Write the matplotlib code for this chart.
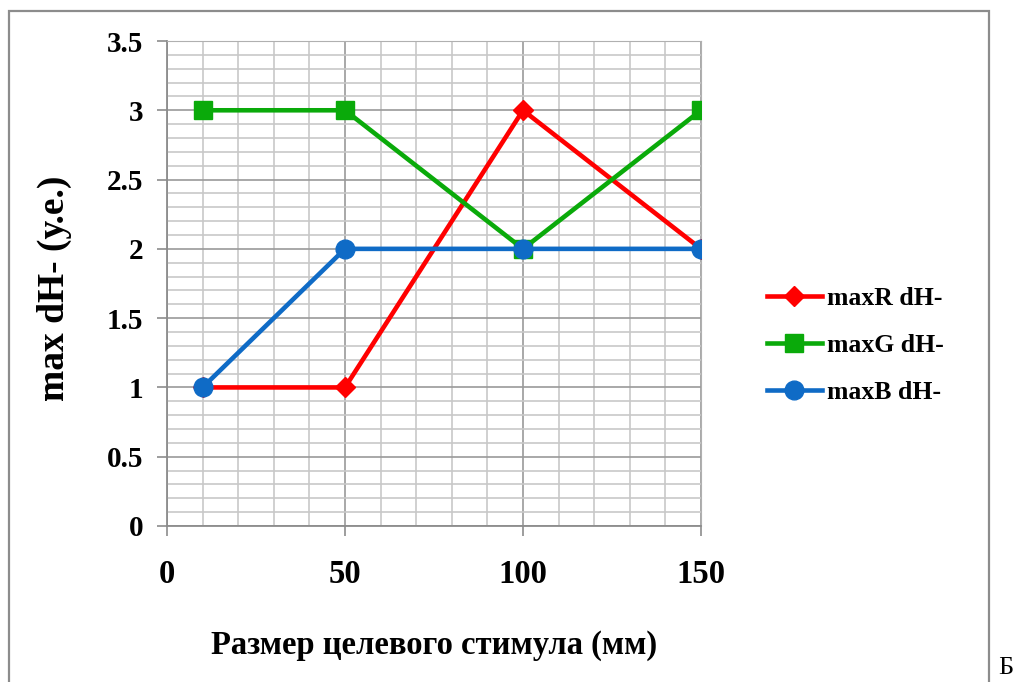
import numpy as np
import matplotlib
matplotlib.use("Agg")
import matplotlib.pyplot as plt
from matplotlib.patches import Rectangle
from matplotlib.ticker import MultipleLocator

# target stimulus size (mm) and max dH- per channel
size_mm = [10, 50, 100, 150]
max_r = [1, 1, 3, 2]
max_g = [3, 3, 2, 3]
max_b = [1, 2, 2, 2]

labels = ["maxR dH-", "maxG dH-", "maxB dH-"]
x_ticks = [0, 50, 100, 150]
y_ticks = [0, 0.5, 1, 1.5, 2, 2.5, 3, 3.5]

plt.rcParams['font.family'] = ['Liberation Serif', 'DejaVu Serif']
plt.rcParams['font.weight'] = 'bold'

fig = plt.figure(figsize=(10.14, 6.82), dpi=100)
ax = fig.add_axes([167/1014, 1-526/682, 534/1014, 485/682])

# outer chart frame
fig.patches.append(Rectangle((9/1014, -0.05), 980/1014, 1.05-11/682, transform=fig.transFigure,
                             fill=False, edgecolor='#8c8c8c', linewidth=1.6))
fig.text(998/1014, 1-657/682, "Б", fontsize=19, fontweight='normal', ha='left', va='top')

lw = 3.3
ax.plot(size_mm, max_r, color='#ff0000', lw=lw, marker='D', markersize=10, label=labels[0], zorder=3)
ax.plot(size_mm, max_g, color='#0aaa0a', lw=lw, marker='s', markersize=13.5, label=labels[1], zorder=3)
ax.plot(size_mm, max_b, color='#0f6bc6', lw=lw, marker='o', markersize=13.5, label=labels[2], zorder=4)

ax.set_xlim(0, 150)
ax.set_ylim(0, 3.5)
ax.set_xticks(x_ticks)
ax.set_yticks(y_ticks)
ax.set_yticklabels(['0', '0.5', '1', '1.5', '2', '2.5', '3', '3.5'])
ax.xaxis.set_minor_locator(MultipleLocator(10))
ax.yaxis.set_minor_locator(MultipleLocator(0.1))
ax.grid(which='minor', color='#c8c8c8', lw=1.2)
ax.grid(which='major', color='#9a9a9a', lw=1.2)
ax.set_axisbelow(True)

ax.tick_params(which='minor', length=0)
ax.tick_params(axis='y', which='major', length=7, width=1.2, color='#8c8c8c', pad=10, labelsize=21)
ax.tick_params(axis='x', which='major', length=7, width=1.2, color='#8c8c8c', pad=17, labelsize=23.5)
for side in ['top', 'right']:
    ax.spines[side].set_color('#b0b0b0')
for side in ['left', 'bottom']:
    ax.spines[side].set_color('#8c8c8c')
    ax.spines[side].set_linewidth(1.3)

ax.set_xlabel("Размер целевого стимула (мм)", fontsize=23.5, fontweight='bold')
ax.xaxis.set_label_coords(0.5, -0.215)
ax.set_ylabel("max dH- (у.е.)", fontsize=27, fontweight='bold')
ax.yaxis.set_label_coords(-0.178, 0.49)

fig.legend(loc='center left', bbox_to_anchor=(767/1014, 1-345.5/682), frameon=False,
           fontsize=18.5, borderpad=0, borderaxespad=0, handlelength=2.14,
           handletextpad=0.2, labelspacing=0.93)

fig.savefig("out.png", dpi=100)
